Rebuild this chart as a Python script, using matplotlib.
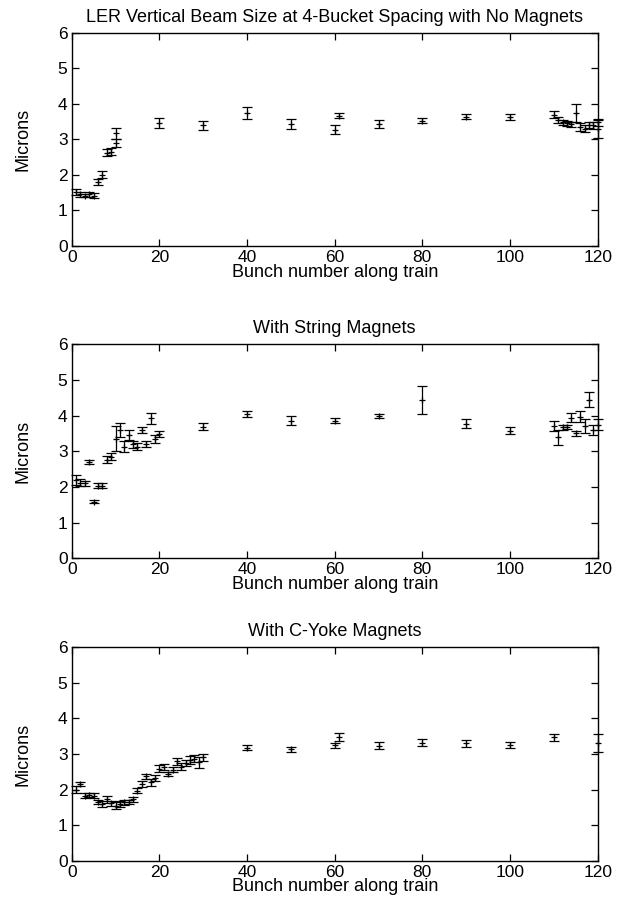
import matplotlib
matplotlib.use("Agg")
import matplotlib.pyplot as plt

plt.rcParams["font.family"] = ["Liberation Sans", "DejaVu Sans"]

# No magnets
x_none = [1, 2, 3, 4, 5, 6, 7, 8, 9, 10, 10, 20, 30, 40, 50, 60, 61, 70, 80, 90, 100,
          110, 111, 112, 113, 114, 115, 116, 117, 118, 119, 120, 120]
y_none = [1.52, 1.45, 1.42, 1.45, 1.42, 1.80, 2.00, 2.62, 2.65, 2.90, 3.17, 3.46, 3.39,
          3.75, 3.43, 3.27, 3.67, 3.43, 3.52, 3.64, 3.63,
          3.69, 3.55, 3.48, 3.45, 3.43, 3.75, 3.35, 3.30, 3.40, 3.40, 3.30, 3.48]
e_none = [0.08, 0.06, 0.05, 0.06, 0.06, 0.08, 0.1, 0.1, 0.1, 0.12, 0.15, 0.15, 0.14,
          0.17, 0.15, 0.12, 0.08, 0.12, 0.07, 0.07, 0.09,
          0.1, 0.08, 0.07, 0.07, 0.07, 0.25, 0.12, 0.1, 0.08, 0.1, 0.25, 0.1]

# String magnets
x_str = [1, 2, 3, 4, 5, 6, 7, 8, 9, 10, 11, 12, 13, 14, 15, 16, 17, 18, 19, 20,
         30, 40, 50, 60, 70, 80, 90, 100, 110, 111, 112, 113, 114, 115, 116, 117,
         118, 119, 120]
y_str = [2.2, 2.12, 2.1, 2.69, 1.59, 2.04, 2.04, 2.76, 2.85, 3.35, 3.6, 3.13, 3.46,
         3.2, 3.13, 3.6, 3.2, 3.92, 3.35, 3.48,
         3.69, 4.04, 3.86, 3.86, 3.99, 4.44, 3.77, 3.58, 3.71, 3.39, 3.67, 3.69,
         3.94, 3.5, 3.97, 3.71, 4.45, 3.6, 3.75]
e_str = [0.14, 0.1, 0.08, 0.06, 0.05, 0.06, 0.06, 0.1, 0.1, 0.35, 0.2, 0.15, 0.15,
         0.1, 0.1, 0.08, 0.08, 0.15, 0.12, 0.08,
         0.1, 0.08, 0.13, 0.08, 0.06, 0.39, 0.13, 0.1, 0.15, 0.2, 0.08, 0.06,
         0.12, 0.08, 0.15, 0.2, 0.2, 0.15, 0.15]

# C-Yoke magnets
x_cy = list(range(1, 31)) + [40, 50, 60, 61, 70, 80, 90, 100, 110, 120]
y_cy = [2.0, 2.15, 1.83, 1.85, 1.83, 1.66, 1.59, 1.73, 1.61, 1.55, 1.6, 1.64, 1.66,
        1.73, 1.97, 2.15, 2.37, 2.21, 2.32, 2.58, 2.64, 2.44, 2.56, 2.79, 2.64,
        2.74, 2.83, 2.87, 2.77, 2.91,
        3.18, 3.13, 3.24, 3.48, 3.23, 3.32, 3.3, 3.25, 3.47, 3.3]
e_cy = [0.1, 0.06, 0.06, 0.06, 0.06, 0.06, 0.08, 0.1, 0.08, 0.1, 0.08, 0.06, 0.06,
        0.07, 0.08, 0.08, 0.08, 0.1, 0.08, 0.1, 0.08, 0.06, 0.07, 0.1, 0.1,
        0.08, 0.1, 0.1, 0.15, 0.1,
        0.08, 0.06, 0.08, 0.12, 0.1, 0.1, 0.1, 0.08, 0.1, 0.25]

panels = [
    ("LER Vertical Beam Size at 4-Bucket Spacing with No Magnets", x_none, y_none, e_none),
    ("With String Magnets", x_str, y_str, e_str),
    ("With C-Yoke Magnets", x_cy, y_cy, e_cy),
]

W, H = 624, 906
fig = plt.figure(figsize=(W / 100, H / 100), dpi=100)
left, right = 71.7, 597.7
boxes = [(32.7, 246.0), (344.3, 558.3), (647.3, 860.7)]
fs = 13

for (title, xs, ys, es), (top, bottom) in zip(panels, boxes):
    ax = fig.add_axes([left / W, 1 - bottom / H, (right - left) / W, (bottom - top) / H])
    cont = ax.errorbar(xs, ys, yerr=es, fmt="+", color="black", ecolor="black",
                       elinewidth=0.9, capsize=3.5, capthick=0.9, markersize=5, mew=0.9)
    for art in cont.get_children():
        art.set_clip_on(False)
    ax.set_xlim(0, 120)
    ax.set_ylim(0, 6)
    ax.set_xticks(range(0, 121, 20))
    ax.set_yticks(range(0, 7))
    ax.tick_params(direction="in", top=True, right=True, length=5, width=0.9,
                   labelsize=12.5, pad=3)
    for s in ax.spines.values():
        s.set_linewidth(1.0)
    ax.set_title(title, fontsize=fs, pad=8)
    ax.set_xlabel("Bunch number along train", fontsize=fs, labelpad=-1)
    ax.set_ylabel("Microns", fontsize=fs, labelpad=19)

fig.savefig("out.png", dpi=100)
